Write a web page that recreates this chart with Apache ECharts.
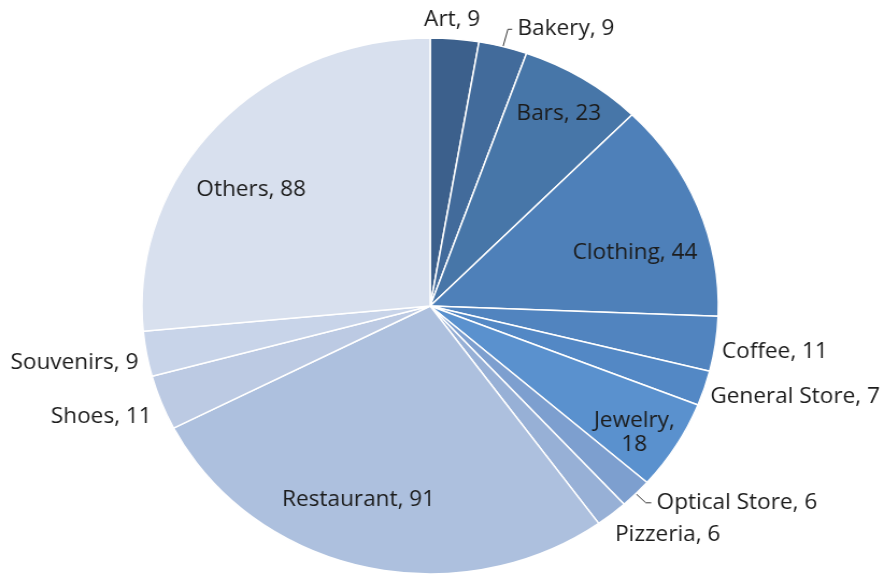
<!DOCTYPE html>
<html>
<head>
<meta charset="utf-8">
<script src="https://cdn.jsdelivr.net/npm/echarts@6/dist/echarts.min.js"></script>
<style>
  html, body { margin: 0; padding: 0; background: #ffffff; overflow: hidden; }
  #wrap { width: 884px; height: 578px; overflow: hidden; }
  #chart { width: 822px; height: 578px; transform: scaleX(1.0754); transform-origin: 0 0; }
</style>
</head>
<body>
<div id="wrap"><div id="chart"></div></div>
<script>
// ---- data ----
const categories = ['Art', 'Bakery', 'Bars', 'Clothing', 'Coffee', 'General Store', 'Jewelry',
                    'Optical Store', 'Pizzeria', 'Restaurant', 'Shoes', 'Souvenirs', 'Others'];
const values = [9, 9, 23, 44, 11, 7, 18, 6, 6, 91, 11, 9, 88];
const sliceColors = ['#3c608c', '#426b9b', '#4776a8', '#4e80b9', '#5184bf', '#5388c5', '#5a91ce',
                     '#7d9fcf', '#97b0d6', '#adc0de', '#bccae3', '#c8d4e9', '#d8e0ee'];

// ---- layout (label placement, not data) ----
const CX = 400, CY = 306, R = 268;
const labelPlace = [
  { pos: 'outside', nudge: [-7.3, -18.5], align: 'center' },
  { pos: 'outside', line: [18, 4] },
  { pos: 'inside', ratio: 0.843, shift: 0 },
  { pos: 'inside', ratio: 0.738, shift: 6.1 },
  { pos: 'outside', nudge: [1, 8.4] },
  { pos: 'outside', nudge: [0.5, 8.3] },
  { pos: 'inside', ratio: 0.852, shift: 2.3, wrap: true },
  { pos: 'outside', line: [13, 5] },
  { pos: 'outside', nudge: [-1.8, 20.9] },
  { pos: 'inside', ratio: 0.765, shift: 5.4 },
  { pos: 'outside', nudge: [-4, 14] },
  { pos: 'outside', nudge: [-2.6, 9.4] },
  { pos: 'inside', ratio: 0.757, shift: -7.4 }
];

const chart = echarts.init(document.getElementById('chart'), null, { renderer: 'canvas' });

const seriesData = categories.map(function (name, i) {
  const p = labelPlace[i];
  return {
    name: name,
    value: values[i],
    itemStyle: { color: sliceColors[i] },
    label: {
      position: p.pos,
      formatter: p.wrap ? '{b},\n{c}' : '{b}, {c}'
    },
    labelLine: p.line
      ? { show: true, length: p.line[0], length2: p.line[1] }
      : { show: false, length: 0, length2: 0 }
  };
});

chart.setOption({
  animation: false,
  backgroundColor: '#ffffff',
  series: [{
    type: 'pie',
    center: [CX, CY],
    radius: R,
    startAngle: 90,
    clockwise: true,
    avoidLabelOverlap: false,
    silent: true,
    itemStyle: { borderColor: '#ffffff', borderWidth: 1.5 },
    label: {
      show: true,
      fontFamily: 'Open Sans',
      fontSize: 21,
      color: '#1c1c1c',
      lineHeight: 24,
      distanceToLabelLine: 5
    },
    labelLine: { lineStyle: { color: '#3a3a3a', width: 1 } },
    labelLayout: function (params) {
      const p = labelPlace[params.dataIndex];
      const r = params.labelRect;
      if (!p || p.line) return {};
      if (p.pos === 'inside') {
        const lx = r.x + r.width / 2, ly = r.y + r.height / 2;
        const ang = Math.atan2(ly - CY, lx - CX) + p.shift * Math.PI / 180;
        return {
          x: CX + R * p.ratio * Math.cos(ang),
          y: CY + R * p.ratio * Math.sin(ang),
          align: 'center',
          verticalAlign: 'middle'
        };
      }
      const ax = params.align === 'right' ? r.x + r.width : (params.align === 'center' ? r.x + r.width / 2 : r.x);
      const ay = r.y + r.height / 2;
      return {
        x: ax + p.nudge[0],
        y: ay + p.nudge[1],
        align: p.align || params.align,
        verticalAlign: 'middle'
      };
    },
    data: seriesData
  }]
});
</script>
</body>
</html>
